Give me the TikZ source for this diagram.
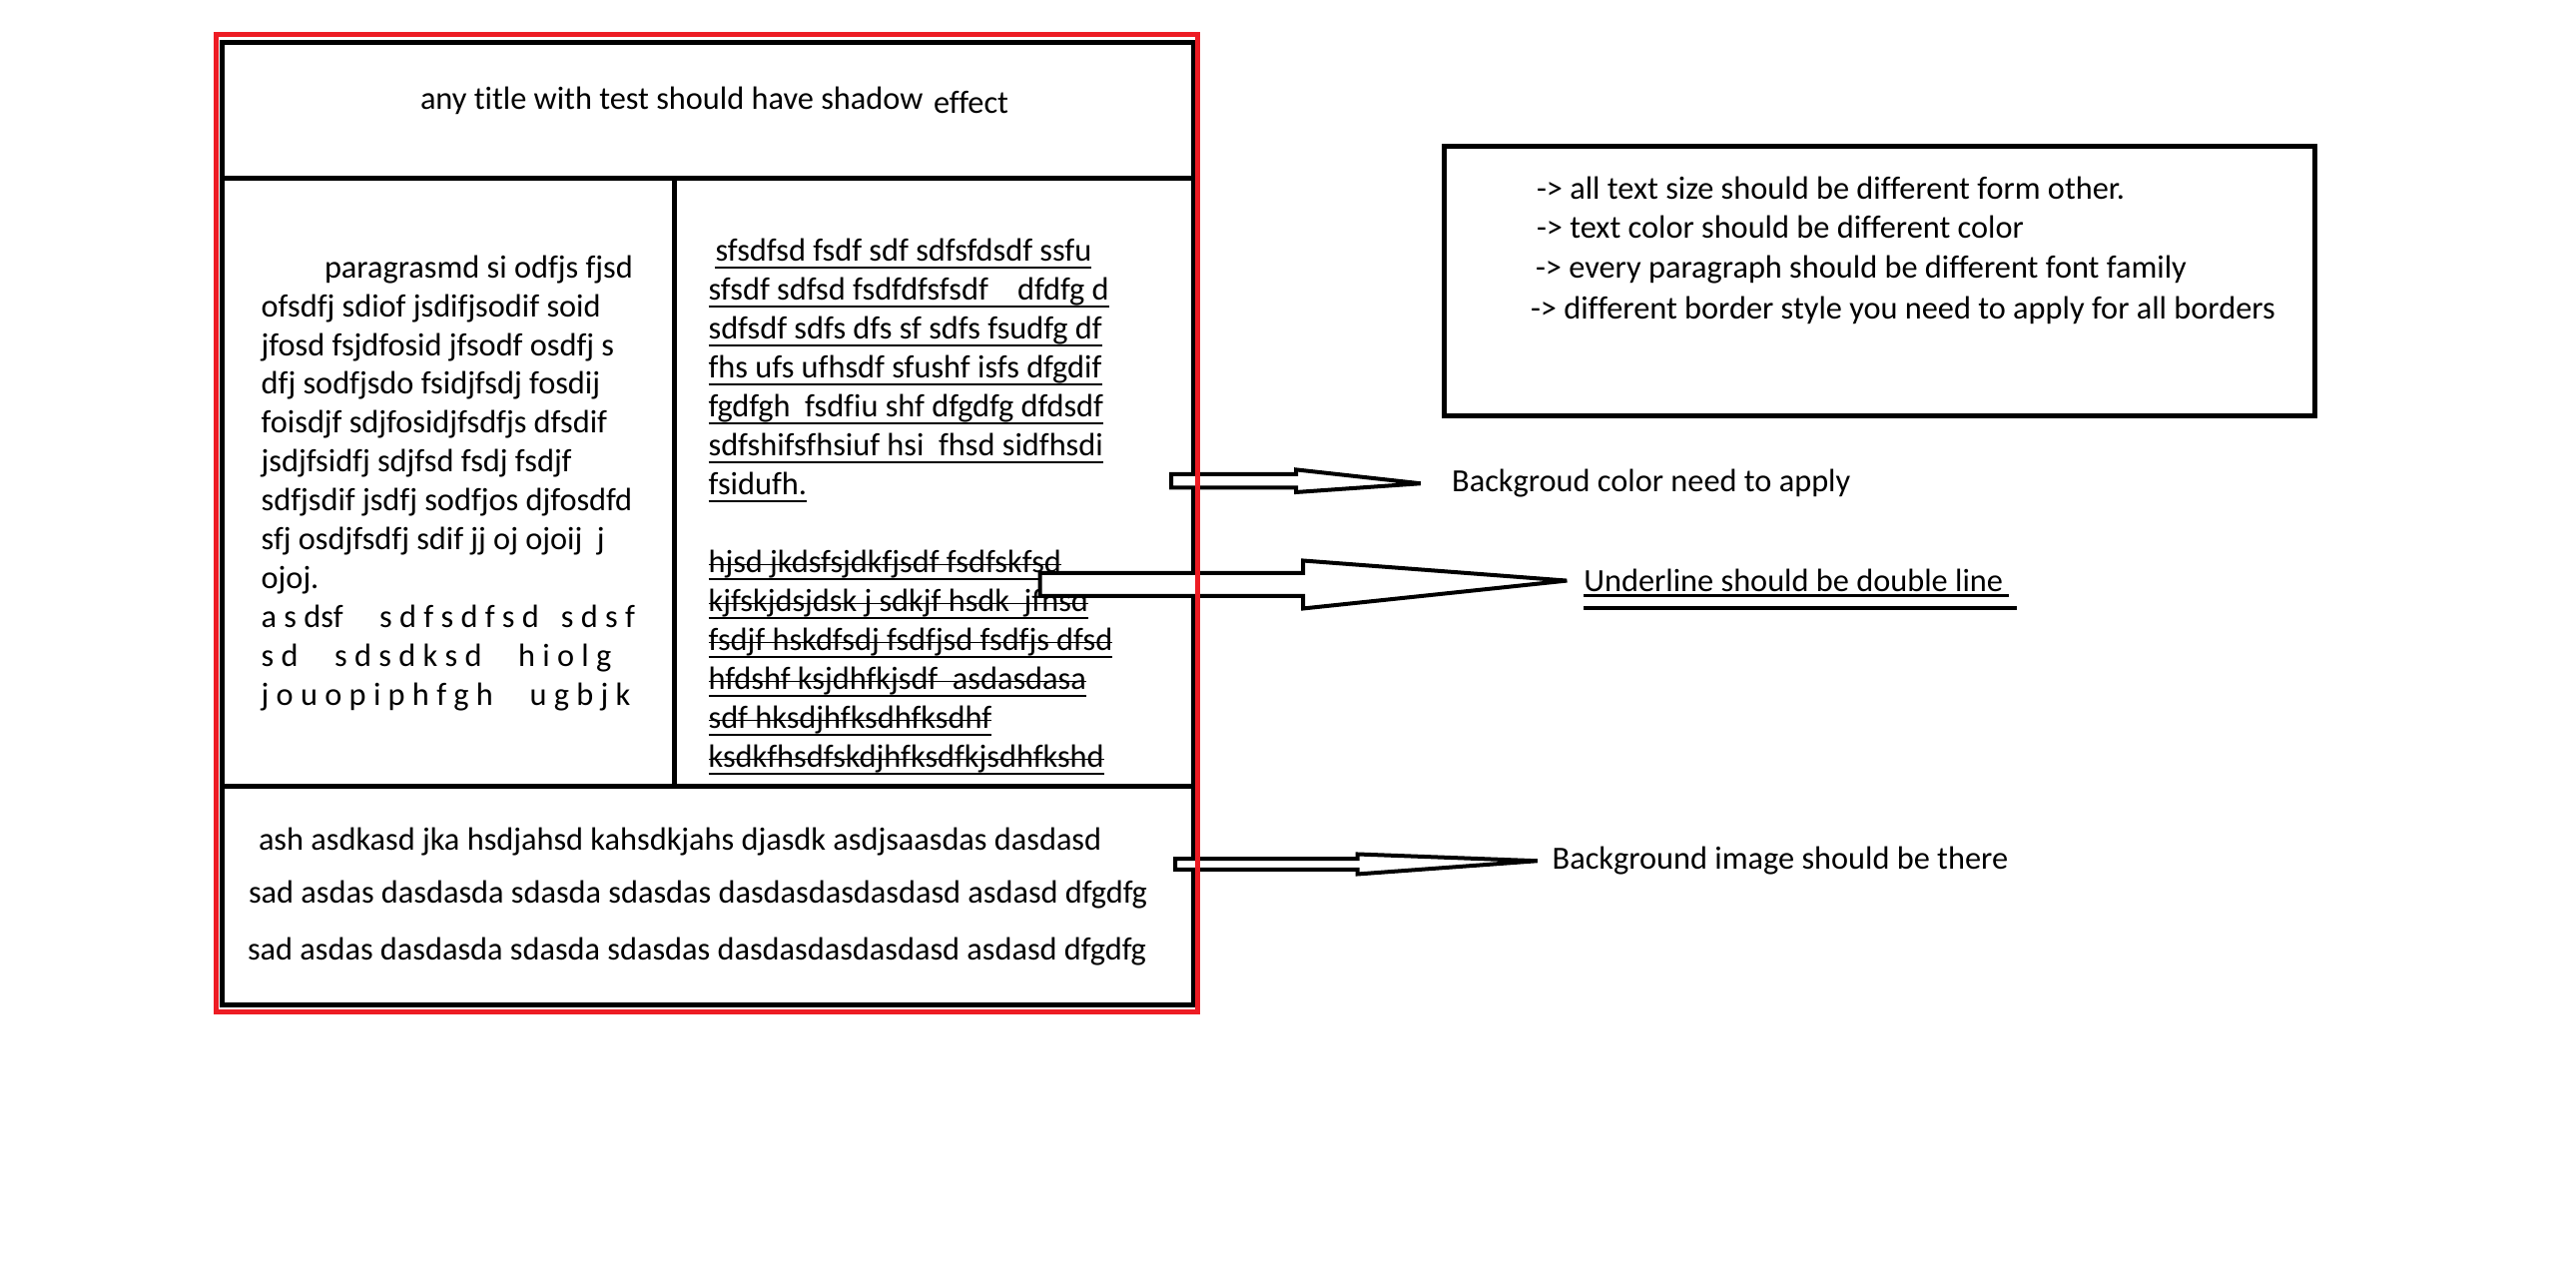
\documentclass[tikz,border=0pt]{standalone}
\usepackage{fontspec}
\setmainfont{Carlito}[Ligatures={NoCommon}]
\usepackage{tikz}
\usetikzlibrary{calc}
\definecolor{paintred}{RGB}{237,28,36}
% hollow block arrow: tail, tip, shaft length, shaft half height, head half height
\newcommand{\blockarrow}[5]{%
  \draw[block] ($(#1)+(0,#4)$) -- ++(#3,0) -- ++(0,{#5-#4}) -- (#2)
    -- ($(#1)+(#3,-#5)$) -- ++(0,{#5-#4}) -- ($(#1)+(0,-#4)$) -- cycle;}

\begin{document}
\begin{tikzpicture}[
  font=\fontsize{9.2}{11.1}\selectfont,
  txt/.style={anchor=base west, inner sep=0pt, outer sep=0pt},
  redframe/.style={draw=paintred, line width=0.5mm},
  frame/.style={draw=black, line width=0.5mm},
  rule/.style={black, line width=0.5mm},
  thin/.style={black, line width=0.17mm},
  block/.style={draw=black, fill=white, line width=0.4mm, line join=miter},
]
\useasboundingbox (0,0) rectangle (25.8,-12.8);
\coordinate (tl) at (2.225,-0.425);
\coordinate (br) at (11.955,-10.07);
\coordinate (headl) at (2.225,-1.79);
\coordinate (headr) at (11.955,-1.79);
\coordinate (footl) at (2.225,-7.88);
\coordinate (footr) at (11.955,-7.88);
\coordinate (colt) at (6.755,-1.79);
\coordinate (colb) at (6.755,-7.88);
\draw[frame] (tl) rectangle (br);
\draw[rule] (headl) -- (headr);
\draw[rule] (footl) -- (footr);
\draw[rule] (colt) -- (colb);

% title
\node[txt] (title) at (4.21,-1.10) {any title with test should have shadow};
\node[txt] (effect) at (9.35,-1.14) {effect};

% left column
\node[txt] (left1) at (3.25,-2.783) {paragrasmd si odfjs fjsd};
\foreach \t [count=\i from 2] in {ofsdfj sdiof jsdifjsodif soid, jfosd fsjdfosid jfsodf osdfj s,
    dfj sodfjsdo fsidjfsdj fosdij, foisdjf sdjfosidjfsdfjs dfsdif, jsdjfsidfj sdjfsd fsdj fsdjf,
    sdfjsdif jsdfj sodfjos djfosdfd, sfj osdjfsdfj sdif jj oj ojoij~~j, ojoj.,
    a s dsf~~~~~s d f s d f s d~~~s d s f, s d~~~~~s d s d k s d~~~~~h i o l g,
    j o u o p i p h f g h~~~~~u g b j k} {
  \node[txt] (left\i) at (2.617,{-2.783-0.389*(\i-1)}) {\t};
}

% right column, underlined
\node[txt] (ul1) at (7.165,-2.617) {sfsdfsd fsdf sdf sdfsfdsdf ssfu};
\draw[thin] ($(ul1.base west)+(-0.01,-0.06)$) -- ($(ul1.base east)+(0,-0.06)$);
\foreach \t [count=\i from 2] in {sfsdf sdfsd fsdfdfsfsdf~~~~dfdfg d, sdfsdf sdfs dfs sf sdfs fsudfg df,
    fhs ufs ufhsdf sfushf isfs dfgdif, fgdfgh~~fsdfiu shf dfgdfg dfdsdf,
    sdfshifsfhsiuf hsi~~fhsd sidfhsdi, fsidufh.} {
  \node[txt] (ul\i) at (7.096,{-2.617-0.39*(\i-1)}) {\t};
  \draw[thin] ($(ul\i.base west)+(0,-0.06)$) -- ($(ul\i.base east)+(0,-0.06)$);
}
% right column, struck through
\foreach \t [count=\i from 8] in {hjsd jkdsfsjdkfjsdf fsdfskfsd, kjfskjdsjdsk j sdkjf hsdk~~jfhsd,
    fsdjf hskdfsdj fsdfjsd fsdfjs dfsd, hfdshf ksjdhfkjsdf~~asdasdasa, sdf hksdjhfksdhfksdhf,
    ksdkfhsdfskdjhfksdfkjsdhfkshd} {
  \node[txt] (st\i) at (7.096,{-2.617-0.39*\i}) {\t};
  \draw[thin] ($(st\i.base west)+(0,-0.06)$) -- ($(st\i.base east)+(0,-0.06)$);
  \draw[thin] ($(st\i.base west)+(0,0.083)$) -- ($(st\i.base east)+(0,0.083)$);
}

% footer
\node[txt] (foot1) at (2.59,-8.517) {ash asdkasd jka hsdjahsd kahsdkjahs djasdk asdjsaasdas dasdasd};
\node[txt] (foot2) at (2.49,-9.05) {sad asdas dasdasda sdasda sdasdas dasdasdasdasdasd asdasd dfgdfg};
\node[txt] (foot3) at (2.48,-9.62) {sad asdas dasdasda sdasda sdasdas dasdasdasdasdasd asdasd dfgdfg};

% notes box
\node[frame, minimum width=8.715cm, minimum height=2.7cm, anchor=north west, inner sep=0pt]
  (notes) at (14.44,-1.437) {};
\node[txt] (note1) at (15.39,-2.00) {-> all text size should be different form other.};
\node[txt] (note2) at (15.39,-2.39) {-> text color should be different color};
\node[txt] (note3) at (15.38,-2.79) {-> every paragraph should be different font family};
\node[txt] (note4) at (15.33,-3.20) {-> different border style you need to apply for all borders};

% callouts
\node[txt] (bglab) at (14.542,-4.927) {Backgroud color need to apply};
\node[txt] (ullab) at (15.863,-5.927) {Underline should be double line};
\draw[line width=0.27mm] ($(ullab.base west)+(0,-0.04)$) -- ($(ullab.base east)+(0.06,-0.04)$);
\draw[line width=0.4mm] ($(ullab.base west)+(0,-0.163)$) -- ($(ullab.base east)+(0.14,-0.163)$);
\node[txt] (imglab) at (15.547,-8.707) {Background image should be there};

\coordinate (bgtail) at (11.73,-4.817);
\coordinate (bgtip) at ($(bglab.west)+(-0.315,0)$);
\coordinate (ultail) at (10.415,-5.855);
\coordinate (ultip) at ($(ullab.west)+(-0.17,0)$);
\coordinate (imgtail) at (11.77,-8.655);
\coordinate (imgtip) at ($(imglab.west)+(-0.15,0)$);
\blockarrow{bgtail}{bgtip}{1.25}{0.067}{0.113}
\blockarrow{ultail}{ultip}{2.635}{0.115}{0.24}
\blockarrow{imgtail}{imgtip}{1.825}{0.054}{0.10}

\draw[redframe] (2.16,-0.35) rectangle (11.995,-10.14);
\end{tikzpicture}
\end{document}
